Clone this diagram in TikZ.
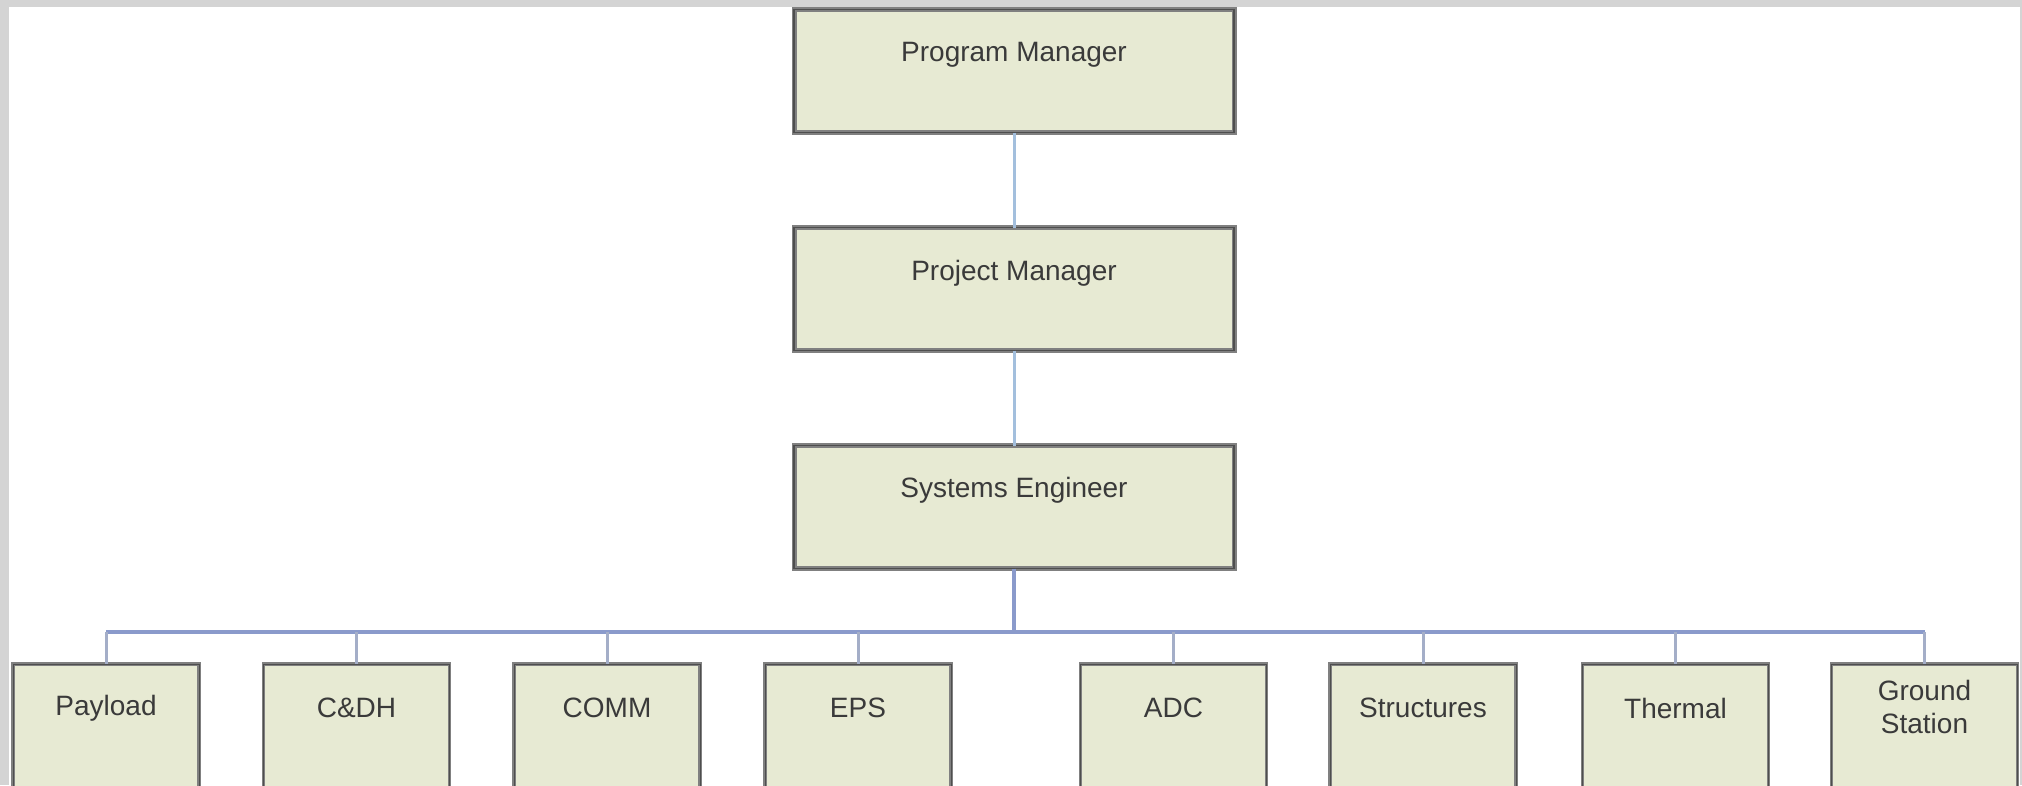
\documentclass[tikz,border=0pt]{standalone}
\usepackage{fontspec}
\setmainfont{Liberation Sans}
\definecolor{framegray}{HTML}{D4D4D4}
\definecolor{boxfill}{HTML}{E7EAD3}
\definecolor{boxedge}{HTML}{808080}
\definecolor{boxdark}{HTML}{4E4E4E}
\definecolor{txtcol}{HTML}{3A3A3A}
\definecolor{vlinecol}{HTML}{A3BFDD}
\definecolor{buscol}{HTML}{8A9ACB}
\definecolor{dropcol}{HTML}{A4AEC8}
\begin{document}
\begin{tikzpicture}[x=1pt,y=-1pt,
  tbox/.style={rectangle, draw=boxedge, fill=boxfill, line width=5pt,
    minimum width=440pt, minimum height=123pt, outer sep=0pt, inner sep=0pt,
    postaction={draw=boxdark, line width=1.5pt}},
  bbox/.style={rectangle, draw=boxedge, fill=boxfill, line width=3.5pt,
    minimum width=186pt, minimum height=150pt, outer sep=0pt, inner sep=0pt,
    postaction={draw=boxdark, line width=1pt}},
  ttxt/.style={text=txtcol, font=\fontsize{28}{33}\selectfont, inner sep=0pt, align=center},
  vline/.style={draw=vlinecol, line width=3pt},
  busline/.style={draw=buscol, line width=4pt},
  drop/.style={draw=dropcol, line width=3pt}]
\fill[framegray] (0,0) rectangle (2022,785);
\fill[white] (9,7) rectangle (2020,785);
\useasboundingbox (0,0) rectangle (2022,785);
\clip (0,0) rectangle (2022,785);

% top chain
\node[tbox] (pgm) at (1014,71) {};
\node[ttxt] (pgmt) at (1014,55) {Program Manager};
\node[tbox] (prj) at (1014,289) {};
\node[ttxt] (prjt) at (1014,273) {Project Manager};
\node[tbox] (se) at (1014,507) {};
\node[ttxt] (set) at (1014,490) {Systems Engineer};

% bottom row
\node[bbox] (pay) at (106,739) {};
\node[ttxt] (payt) at (106,708) {Payload};
\node[bbox] (cdh) at (356.5,739) {};
\node[ttxt] (cdht) at (356.5,708) {C\&DH};
\node[bbox] (comm) at (607,739) {};
\node[ttxt] (commt) at (607,708) {COMM};
\node[bbox] (eps) at (858,739) {};
\node[ttxt] (epst) at (858,708) {EPS};
\node[bbox] (adc) at (1173.5,739) {};
\node[ttxt] (adct) at (1173.5,708) {ADC};
\node[bbox] (str) at (1423,739) {};
\node[ttxt] (strt) at (1423,708) {Structures};
\node[bbox] (thm) at (1675.5,739) {};
\node[ttxt] (thmt) at (1675.5,708) {Thermal};
\node[bbox] (gs) at (1924.5,739) {};
\node[ttxt] (gst) at (1924.5,707) {Ground\\Station};

% connectors
\draw[vline] (pgm.south) -- (prj.north);
\draw[vline] (prj.south) -- (se.north);
\coordinate (bus) at (1014,632);
\draw[busline] (se.south) -- (bus);
\draw[busline] (pay.north |- bus) -- (gs.north |- bus);
\foreach \n in {pay,cdh,comm,eps,adc,str,thm,gs}{
  \draw[drop] (\n.north |- bus) -- (\n.north);
}
\end{tikzpicture}
\end{document}
